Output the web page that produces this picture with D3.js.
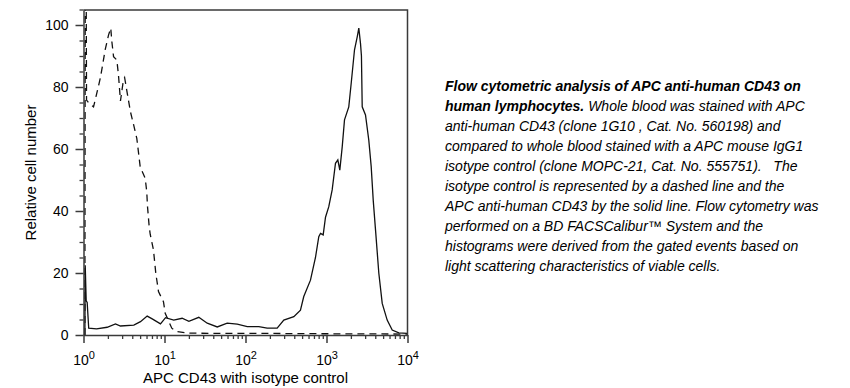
<!DOCTYPE html>
<html>
<head>
<meta charset="utf-8">
<script src="https://cdn.jsdelivr.net/npm/d3@7/dist/d3.min.js"></script>
<style>
  html, body { margin: 0; padding: 0; background: #ffffff; }
  svg { display: block; font-family: "Liberation Sans", Arial, sans-serif; }
</style>
</head>
<body>
<svg id="chart" width="850" height="388"></svg>
<script>
// ---- Data ----
// Solid line: APC anti-human CD43
const cd43X = [1.0, 1.04, 1.05, 1.08, 1.11, 1.16, 1.45, 1.96, 2.48, 2.86, 4.18, 5.05, 6.11, 7.05, 8.92, 10.3, 13.0, 16.5, 20.0, 26.5, 33.7, 44.8, 59.4, 79.0, 105, 146, 185, 246, 297, 395, 477, 524, 634, 731, 803, 844, 910, 972, 1067, 1175, 1291, 1380, 1460, 1563, 1668, 1884, 2018, 2217, 2395, 2506, 2630, 2700, 2760, 3030, 3326, 3563, 3773, 4029, 4426, 4874, 5613, 6475, 7814, 9910];
const cd43Y = [0, 0, 22.5, 11, 10.5, 2.2, 2.0, 2.5, 3.6, 2.9, 3.2, 4.3, 6.1, 5.2, 3.6, 5.6, 4.8, 5.4, 4.4, 5.7, 3.8, 2.6, 3.8, 3.5, 2.7, 2.7, 2.2, 2.2, 4.8, 5.9, 8.0, 12.4, 17.7, 25, 31.7, 32.8, 32.3, 38, 41.4, 46.8, 55.4, 56.5, 53.2, 60.7, 69.4, 73.6, 81.2, 92, 96.2, 99, 94, 90, 73.6, 71, 62.9, 54.3, 43.5, 33.9, 19.9, 10.2, 4.8, 1.6, 0.7, 0.5];
// Dashed line: isotype control
const isoX = [1.04, 1.05, 1.08, 1.09, 1.15, 1.33, 1.46, 1.61, 1.72, 1.85, 2.04, 2.17, 2.24, 2.35, 2.58, 2.70, 2.86, 3.1, 3.22, 3.5, 3.8, 4.14, 4.55, 4.77, 5.01, 5.78, 6.04, 6.17, 6.47, 6.66, 7.31, 7.81, 8.43, 9.72, 10.2, 12.3, 14.2, 20, 50, 200, 1000, 9900];
const isoY = [0, 110, 110, 75.8, 75, 73.6, 78, 82.8, 87, 92, 96.8, 99, 94.6, 89.8, 88.7, 84, 75.5, 82, 83, 77.4, 72, 68, 63.4, 59, 54.3, 50.5, 46.2, 41.4, 35, 32.5, 27.4, 19.9, 14, 10.7, 7, 2.2, 1.1, 0.6, 0.5, 0.5, 0.4, 0.3];
// Axis ticks and labels
const yMajorTicks = [0, 20, 40, 60, 80, 100];
const yMinorTicks = [5, 10, 15, 25, 30, 35, 45, 50, 55, 65, 70, 75, 85, 90, 95, 105];
const xMajorTicks = [1, 10, 100, 1000, 10000];
const xExponents = ["0", "1", "2", "3", "4"];
const xTitle = "APC CD43 with isotype control";
const yTitle = "Relative cell number";
const captionLines = [
  [{t: "Flow cytometric analysis of APC anti-human CD43 on", b: true}],
  [{t: "human lymphocytes.", b: true}, {t: " Whole blood was stained with APC", b: false}],
  [{t: "anti-human CD43 (clone 1G10 , Cat. No. 560198) and", b: false}],
  [{t: "compared to whole blood stained with a APC mouse IgG1", b: false}],
  [{t: "isotype control (clone MOPC-21, Cat. No. 555751).\u00A0\u00A0 The", b: false}],
  [{t: "isotype control is represented by a dashed line and the", b: false}],
  [{t: "APC anti-human CD43 by the solid line. Flow cytometry was", b: false}],
  [{t: "performed on a BD FACSCalibur\u2122 System and the", b: false}],
  [{t: "histograms were derived from the gated events based on", b: false}],
  [{t: "light scattering characteristics of viable cells.", b: false}]
];

// ---- Layout ----
const L = 83.5, R = 407.5, T = 10, B = 335;
const svg = d3.select("#chart");

const x = d3.scaleLog().domain([1, 10000]).range([L, R]);
const y = d3.scaleLinear().domain([0, (B - T) / 3.1]).range([B, T]);

const axisColor = "#3a3a3a";

// clip
svg.append("defs").append("clipPath").attr("id", "plotclip")
  .append("rect").attr("x", L).attr("y", T).attr("width", R - L + 1).attr("height", B - T);

// curves
const line = d3.line().x(d => x(d[0])).y(d => y(d[1]));
const cd43 = cd43X.map((v, i) => [v, cd43Y[i]]);
const iso = isoX.map((v, i) => [v, isoY[i]]);

const g = svg.append("g").attr("clip-path", "url(#plotclip)");
g.append("path").datum(iso).attr("d", line)
  .attr("fill", "none").attr("stroke", "#111").attr("stroke-width", 1.3)
  .attr("stroke-dasharray", "7,5");
g.append("path").datum(cd43).attr("d", line)
  .attr("fill", "none").attr("stroke", "#111").attr("stroke-width", 1.3);

// frame (top and right)
svg.append("path")
  .attr("d", `M${L},${T}H${R}V${B}`)
  .attr("fill", "none").attr("stroke", axisColor).attr("stroke-width", 1.5);

// x minor ticks
const xMinor = [];
for (let e = 0; e < 4; e++) for (let m = 2; m <= 9; m++) xMinor.push(m * Math.pow(10, e));
svg.append("g").attr("transform", `translate(0,${B})`)
  .call(d3.axisBottom(x).tickValues(xMinor).tickSize(4).tickFormat(""))
  .call(s => s.select(".domain").remove())
  .call(s => s.selectAll("line").attr("stroke", axisColor).attr("stroke-width", 1.3));

// x major axis
const xAxisG = svg.append("g").attr("transform", `translate(0,${B})`)
  .call(d3.axisBottom(x).tickValues(xMajorTicks).tickSize(8).tickSizeOuter(0).tickFormat(""));
xAxisG.select(".domain").attr("stroke", axisColor).attr("stroke-width", 1.5);
xAxisG.selectAll("line").attr("stroke", axisColor).attr("stroke-width", 1.5);
xAxisG.selectAll(".tick").each(function(d, i) {
  const t = d3.select(this).append("text")
    .attr("y", 30).attr("x", 0)
    .attr("text-anchor", "middle")
    .attr("fill", "#000")
    .style("font-size", "14px");
  t.append("tspan").text("10");
  t.append("tspan").attr("dy", "-6").style("font-size", "11px").text(xExponents[i]);
});

// y minor ticks
svg.append("g").attr("transform", `translate(${L},0)`)
  .call(d3.axisLeft(y).tickValues(yMinorTicks).tickSize(4).tickFormat(""))
  .call(s => s.select(".domain").remove())
  .call(s => s.selectAll("line").attr("stroke", axisColor).attr("stroke-width", 1.3));

// y major axis
const yAxisG = svg.append("g").attr("transform", `translate(${L},0)`)
  .call(d3.axisLeft(y).tickValues(yMajorTicks).tickSize(8).tickSizeOuter(0).tickPadding(7));
yAxisG.select(".domain").attr("stroke", axisColor).attr("stroke-width", 1.5);
yAxisG.selectAll("line").attr("stroke", axisColor).attr("stroke-width", 1.5);
yAxisG.selectAll("text").attr("fill", "#000")
  .style("font-size", "14px").style("font-family", "'Liberation Sans', Arial, sans-serif");
xAxisG.selectAll("text").style("font-family", "'Liberation Sans', Arial, sans-serif");

// axis titles
svg.append("text").attr("x", (L + R) / 2).attr("y", 383)
  .attr("text-anchor", "middle").style("font-size", "15px").attr("fill", "#000")
  .text(xTitle);
svg.append("text").attr("transform", `translate(36,${(T + B) / 2}) rotate(-90)`)
  .attr("text-anchor", "middle").style("font-size", "15px").attr("fill", "#000")
  .text(yTitle);

// caption
const cap = svg.append("g").attr("transform", "translate(445,91)");
captionLines.forEach((ln, i) => {
  const t = cap.append("text").attr("x", 0).attr("y", i * 20)
    .style("font-size", "14px").style("font-style", "italic").attr("fill", "#000")
    .attr("xml:space", "preserve");
  ln.forEach(p => t.append("tspan").style("font-weight", p.b ? "bold" : "normal").text(p.t));
});
</script>
</body>
</html>
